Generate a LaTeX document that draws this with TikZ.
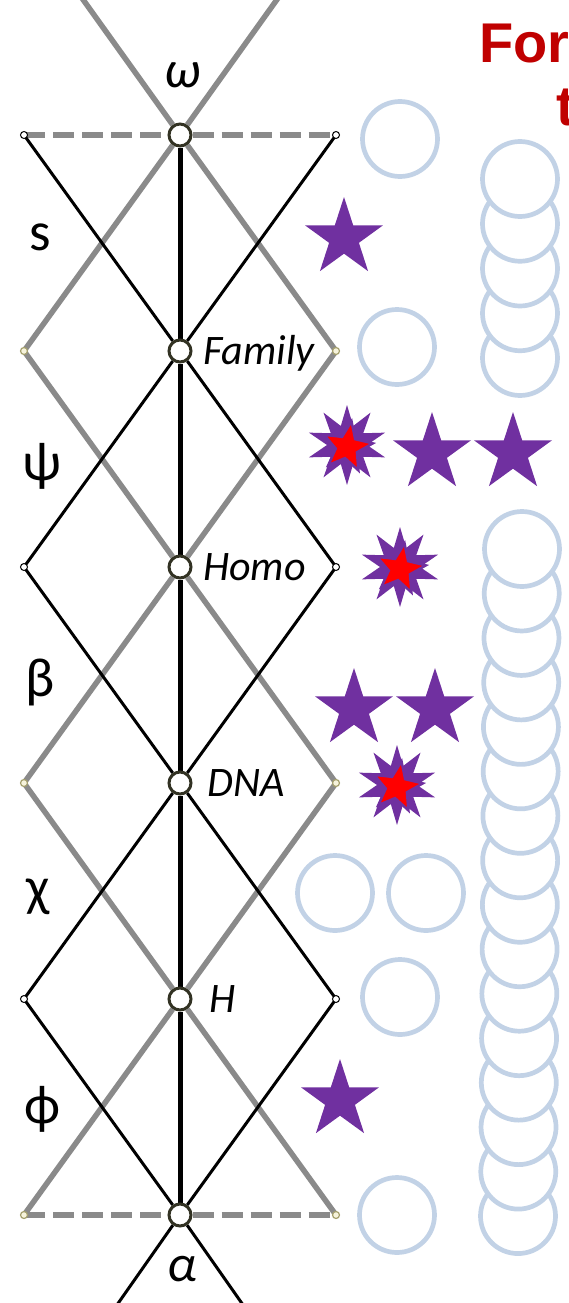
\documentclass[tikz,border=0pt]{standalone}
\usepackage{fontspec}
\setmainfont{Carlito}
\newfontfamily\titlefont{Liberation Sans}
\usetikzlibrary{shapes.geometric}
\pgfdeclarelayer{bg}
\pgfsetlayers{bg,main}
\definecolor{gline}{RGB}{138,138,138}
\definecolor{ringblue}{RGB}{194,210,230}
\definecolor{starpurple}{RGB}{112,48,160}
\definecolor{titlered}{RGB}{192,0,0}
\definecolor{oliveedge}{RGB}{165,160,110}
\definecolor{olivefill}{RGB}{246,243,220}
\definecolor{nodeedge}{RGB}{50,50,35}
\tikzset{
  grayline/.style={draw=gline, line width=5.5pt, line join=miter},
  blackline/.style={draw=black, line width=3pt, line join=miter},
  spine/.style={draw=black, line width=5pt},
  centernode/.style={circle, draw=nodeedge, fill=white, line width=3pt, minimum size=22pt, inner sep=0pt},
  blackend/.style={circle, draw=black, fill=white, line width=1pt, minimum size=7pt, inner sep=0pt},
  grayend/.style={circle, draw=oliveedge, fill=olivefill, line width=1.2pt, minimum size=7pt, inner sep=0pt},
  ring/.style={circle, draw=ringblue, fill=white, line width=4.7pt, minimum size=75pt, inner sep=0pt},
  bigstar/.style={star, star points=5, star point ratio=2.618, fill=starpurple, inner sep=0pt, minimum size=82pt},
  burst/.style={star, star points=10, star point ratio=2.0, fill=starpurple, inner sep=0pt, minimum size=80pt},
  redstar/.style={star, star points=5, star point ratio=2.3, fill=red, draw=starpurple, line width=2.5pt, inner sep=0pt, minimum size=52pt, rotate=-10},
  greek/.style={inner sep=0pt, font=\fontsize{55}{55}\selectfont},
  greekit/.style={inner sep=0pt, font=\itshape\fontsize{52}{52}\selectfont},
  taxon/.style={inner sep=0pt, anchor=base west, font=\itshape\fontsize{42}{42}\selectfont},
  titletext/.style={inner sep=0pt, anchor=base west, text=titlered, font=\titlefont\bfseries\fontsize{56}{56}\selectfont}
}
\begin{document}
\begin{tikzpicture}[x=1pt,y=-1pt]
\useasboundingbox (0,0) rectangle (568,1303);
\clip (0,0) rectangle (568,1303);

% centre nodes
\node[centernode] (omega) at (180,135) {};
\node[centernode] (fam) at (180,351) {};
\node[centernode] (homo) at (180,567) {};
\node[centernode] (dna) at (180,783) {};
\node[centernode] (h) at (180,999) {};
\node[centernode] (alpha) at (180,1215) {};

% side end points
\node[blackend] (l0) at (24,135) {};
\node[blackend] (r0) at (336,135) {};
\node[grayend] (l1) at (24,351) {};
\node[grayend] (r1) at (336,351) {};
\node[blackend] (l2) at (24,567) {};
\node[blackend] (r2) at (336,567) {};
\node[grayend] (l3) at (24,783) {};
\node[grayend] (r3) at (336,783) {};
\node[blackend] (l4) at (24,999) {};
\node[blackend] (r4) at (336,999) {};
\node[grayend] (l5) at (24,1215) {};
\node[grayend] (r5) at (336,1215) {};

\coordinate (gtl) at (76.2,-10);
\coordinate (gtr) at (283.8,-10);
\coordinate (bbl) at (112,1312);
\coordinate (bbr) at (248,1312);

\begin{pgfonlayer}{bg}
  \draw[grayline, dash pattern=on 21pt off 8pt] (l0.center) -- (omega) -- (r0.center);
  \draw[grayline, dash pattern=on 21pt off 8pt] (l5.center) -- (alpha) -- (r5.center);
  \draw[grayline] (gtr) -- (omega) -- (l1.center) -- (homo) -- (r3.center) -- (h) -- (l5.center);
  \draw[grayline] (gtl) -- (omega) -- (r1.center) -- (homo) -- (l3.center) -- (h) -- (r5.center);
  \draw[blackline] (l0.center) -- (fam) -- (r2.center) -- (dna) -- (l4.center) -- (alpha) -- (bbr);
  \draw[blackline] (r0.center) -- (fam) -- (l2.center) -- (dna) -- (r4.center) -- (alpha) -- (bbl);
  \draw[spine] (omega) -- (fam) -- (homo) -- (dna) -- (h) -- (alpha);
\end{pgfonlayer}

% labels
\node[greekit] (wlab) at (183,75) {ω};
\node[greekit] (alab) at (182,1269) {α};
\node[greek] (slab) at (40,237) {s};
\node[greek] (psilab) at (42,466) {ψ};
\node[greek] (betalab) at (40,682) {β};
\node[greek] (chilab) at (38,897) {χ};
\node[greek] (philab) at (42,1109) {ϕ};
\node[taxon] (famlab) at (203,364) {Family};
\node[taxon] (homolab) at (203,580) {Homo};
\node[taxon] (dnalab) at (207,796) {DNA};
\node[taxon] (hlab) at (209,1012) {H};

% title (cut by the frame, as in the reference)
\node[titletext] (title1) at (479,63) {For};
\node[titletext] (title2) at (556,126) {t};

% rings, first column
\node[ring] (c1) at (400,139) {};
\node[ring] (c2) at (397,347) {};
\node[ring] (c3) at (335,893) {};
\node[ring] (c4) at (426,893) {};
\node[ring] (c5) at (400,997) {};
\node[ring] (c6) at (397,1215) {};

% rings, second column (upper stack)
\foreach \i in {4,3,...,0} {
  \node[ring] (u\i) at (520,{179+44.75*\i}) {};
}
% rings, second column (lower stack)
\foreach \i in {15,14,...,0} {
  \node[ring] (d\i) at ({522-4*\i/15},{549+44.47*\i}) {};
}

% stars
\node[bigstar] (st1) at (344,238) {};
\node[bigstar] (st2) at (432,453) {};
\node[bigstar] (st3) at (513,453) {};
\node[bigstar] (st4) at (354,709) {};
\node[bigstar] (st5) at (435,709) {};
\node[bigstar] (st6) at (340,1100) {};

% bursts
\node[burst] (bu1) at (347,445) {};
\node[redstar] (rs1) at (347,447) {};
\node[burst] (bu2) at (400,567) {};
\node[redstar] (rs2) at (400,569) {};
\node[burst] (bu3) at (397,785) {};
\node[redstar] (rs3) at (397,787) {};
\end{tikzpicture}
\end{document}
